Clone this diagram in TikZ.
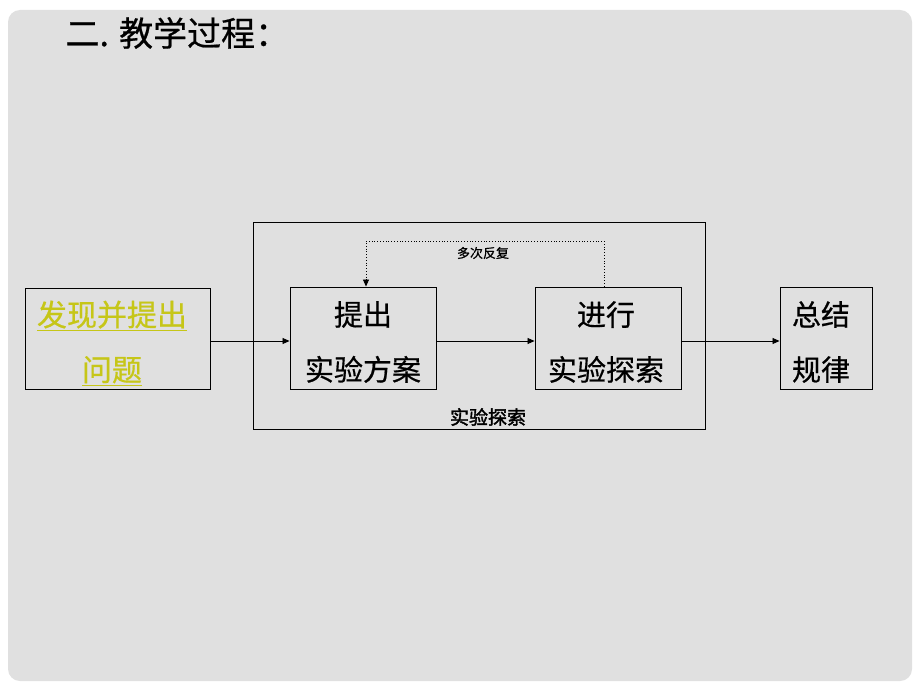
\documentclass[tikz,border=0pt]{standalone}
\usepackage{fontspec}
\newfontfamily\cjk[FakeBold=0.6]{Noto Sans CJK SC}
\newfontfamily\cjkb[FakeBold=2]{Noto Sans CJK SC}
\usetikzlibrary{arrows.meta}
\definecolor{pagegray}{RGB}{224,224,224}
\definecolor{hiyellow}{RGB}{198,198,24}
\newcommand{\ul}[1]{\underline{#1}}
\tikzset{
  box/.style={draw=black, line width=0.9pt, inner sep=0pt},
  boxtext/.style={inner sep=0pt, align=center, font=\cjk\fontsize{29}{55}\selectfont},
  flow/.style={draw=black, line width=0.8pt, -{Triangle[length=7pt,width=6pt]}},
  loop/.style={draw=black, line width=0.8pt, dotted, -{Triangle[length=7pt,width=6pt]}},
}
\begin{document}
\begin{tikzpicture}[x=1pt,y=-1pt]
\useasboundingbox (0,0) rectangle (920,690);
\fill[white] (0,0) rectangle (920,690);
\fill[pagegray] (8,10) [rounded corners=12pt] rectangle (912,681);
\node[anchor=west, font=\cjk\fontsize{34}{38}\selectfont] (title) at (62,33) {二. 教学过程：};
% outer frame
\node[draw=black, line width=0.9pt, minimum width=452pt, minimum height=207pt, inner sep=0pt] (frame) at (479,325.5) {};
\node[font=\cjkb\fontsize{19}{22}\selectfont] (framelbl) at (488,417) {实验探索};
% boxes
\node[box, minimum width=185pt, minimum height=101pt] (a) at (117.5,338.5) {};
\node[box, minimum width=146pt, minimum height=102pt] (b) at (363,338) {};
\node[box, minimum width=146pt, minimum height=102pt] (c) at (608,338) {};
\node[box, minimum width=92pt, minimum height=102pt] (d) at (826,338) {};
\node[boxtext, text=hiyellow, font=\cjk\fontsize{30}{55}\selectfont] (at) at (112,343) {\ul{发现并提出}\\\ul{问题}};
\node[boxtext] (bt) at (363,342) {提出\\实验方案};
\node[boxtext] (ct) at (606,342) {进行\\实验探索};
\node[boxtext] (dt) at (821,342) {总结\\规律};
% arrows
\draw[flow] (a.east |- 0,341) -- (b.west |- 0,341);
\draw[flow] (b.east |- 0,341) -- (c.west |- 0,341);
\draw[flow] (c.east |- 0,341) -- (d.west |- 0,341);
% feedback loop
\coordinate (lr) at (604,241);
\coordinate (ll) at (366,241);
\draw[loop] (c.north -| lr) -- (lr) -- (ll) -- (b.north -| ll);
\node[font=\cjk\fontsize{13}{14}\selectfont] (looplbl) at (483,253) {多次反复};
\end{tikzpicture}
\end{document}
